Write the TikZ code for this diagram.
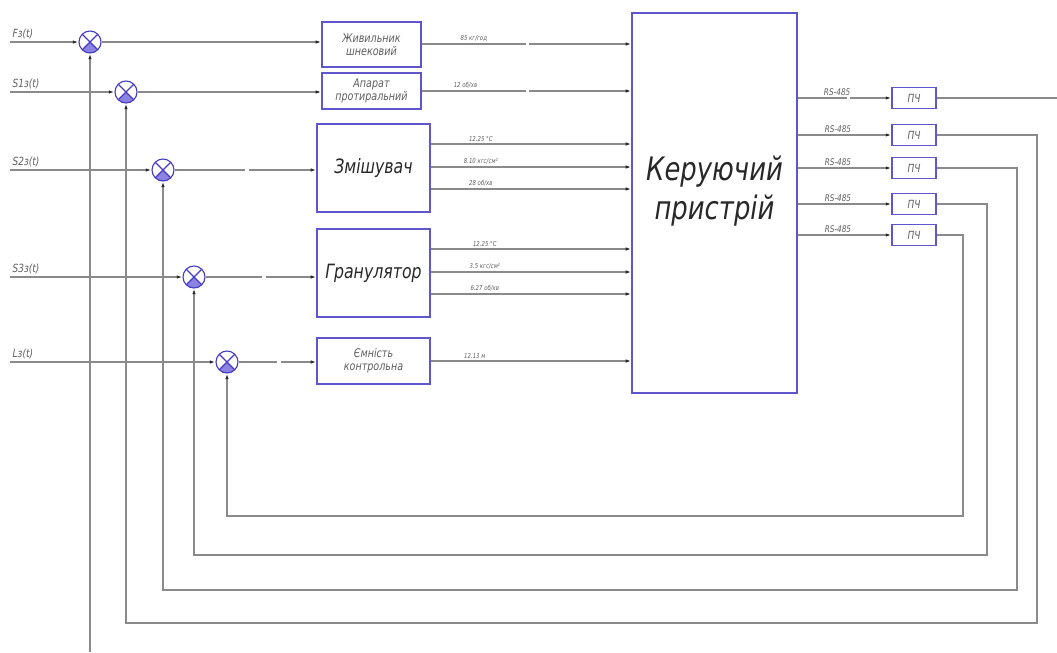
\documentclass[tikz,border=0pt]{standalone}
\usepackage{fontspec}
\newfontfamily\gostfont[FakeStretch=0.8]{DejaVu Sans}
\usetikzlibrary{arrows.meta, positioning, calc}
\definecolor{mygray}{RGB}{138,138,138}
\definecolor{mydark}{RGB}{40,40,40}
\definecolor{myblue}{RGB}{95,85,205}
\definecolor{sumblue}{RGB}{70,60,195}
\definecolor{sumfill}{RGB}{140,130,225}
\definecolor{txtgray}{RGB}{95,95,95}
\tikzset{
  unit/.style={rectangle, draw=myblue, fill=white, line width=0.9pt,
    align=center, inner sep=1pt, text=txtgray,
    font=\gostfont\itshape\fontsize{8.5}{9.5}\selectfont},
  bigunit/.style={unit, text=mydark,
    font=\gostfont\itshape\fontsize{14}{16}\selectfont},
  ctrlbox/.style={rectangle, draw=myblue, line width=0.9pt,
    minimum width=4.125cm, minimum height=9.5cm},
  ctrltext/.style={align=center, text=mydark,
    font=\gostfont\itshape\fontsize{23}{28}\selectfont},
  pchbox/.style={rectangle, draw=myblue, line width=0.9pt,
    minimum width=1.1cm, minimum height=0.525cm, inner sep=0pt,
    text=txtgray, font=\gostfont\itshape\fontsize{8}{9}\selectfont},
  sumj/.style={circle, draw=sumblue, fill=white, minimum size=0.55cm,
    inner sep=0pt, line width=0.8pt,
    path picture={
      \fill[sumfill] (path picture bounding box.center) -- ++(225:0.275cm)
        arc[start angle=225, end angle=315, radius=0.275cm] -- cycle;
      \draw[sumblue, line width=0.8pt]
        (path picture bounding box.north west) -- (path picture bounding box.south east)
        (path picture bounding box.north east) -- (path picture bounding box.south west);
    }},
  arrow/.style={-{Latex[length=4pt, width=2.4pt, color=mydark]}, color=mygray, line width=0.85pt},
  line/.style={color=mygray, line width=0.85pt},
  vallbl/.style={text=txtgray, inner sep=1.5pt,
    font=\gostfont\itshape\fontsize{4.8}{5.5}\selectfont},
  buslbl/.style={text=txtgray, inner sep=1.5pt,
    font=\gostfont\itshape\fontsize{6.5}{7}\selectfont},
  inlbl/.style={text=txtgray, inner sep=1.5pt,
    font=\gostfont\itshape\fontsize{8}{9}\selectfont}
}
\begin{document}
\begin{tikzpicture}[x=0.025cm, y=-0.025cm]
  \useasboundingbox (0,0) rectangle (1057,652);

  % Summing junctions
  \node[sumj] (s1) at (90,42) {};
  \node[sumj] (s2) at (126,92) {};
  \node[sumj] (s3) at (163,170) {};
  \node[sumj] (s4) at (194,277) {};
  \node[sumj] (s5) at (227,362) {};

  % Plant units
  \node[unit, minimum width=2.475cm, minimum height=1.125cm] (feeder) at (371.5,44.5) {Живильник\\шнековий};
  \node[unit, minimum width=2.475cm, minimum height=0.9cm] (wiper) at (371.5,91) {Апарат\\протиральний};
  \node[bigunit, minimum width=2.825cm, minimum height=2.2cm] (mixer) at (373.5,168) {Змішувач};
  \node[bigunit, minimum width=2.825cm, minimum height=2.2cm] (gran) at (373.5,273) {Гранулятор};
  \node[unit, minimum width=2.825cm, minimum height=1.15cm] (tank) at (373.5,361) {Ємність\\контрольна};

  % Controller
  \node[ctrlbox] (ctrl) at (714.5,203) {};
  \node[ctrltext] (ctrltxt) at ([yshift=0.3cm]ctrl.center) {Керуючий\\пристрій};

  % Frequency converters
  \foreach \i/\yy in {1/98, 2/135, 3/168, 4/204, 5/235}
    \node[pchbox] (pch\i) at (914,\yy) {ПЧ};

  % Break points in the long lines
  \coordinate (bf1) at (526,44);  \coordinate (bf2) at (529,44);
  \coordinate (bw1) at (526,91);  \coordinate (bw2) at (529,91);
  \coordinate (bm1) at (245,170); \coordinate (bm2) at (249,170);
  \coordinate (bg1) at (262,277); \coordinate (bg2) at (266,277);
  \coordinate (bt1) at (277,362); \coordinate (bt2) at (281,362);
  \coordinate (bp1) at (847,98);  \coordinate (bp2) at (850,98);

  % Setpoint inputs
  \coordinate (in1) at (10,42);
  \coordinate (in2) at (10,92);
  \coordinate (in3) at (10,170);
  \coordinate (in4) at (10,277);
  \coordinate (in5) at (10,362);
  \draw[arrow] (in1) node[inlbl, above right] {Fз(t)} -- (s1);
  \draw[arrow] (in2) node[inlbl, above right] {S1з(t)} -- (s2);
  \draw[arrow] (in3) node[inlbl, above right] {S2з(t)} -- (s3);
  \draw[arrow] (in4) node[inlbl, above right] {S3з(t)} -- (s4);
  \draw[arrow] (in5) node[inlbl, above right] {Lз(t)} -- (s5);

  % Junctions to units
  \draw[arrow] (s1) -- (s1 -| feeder.west);
  \draw[arrow] (s2) -- (s2 -| wiper.west);
  \draw[arrow] (s3) -- (bm1) (bm2) -- (bm2 -| mixer.west);
  \draw[arrow] (s4) -- (bg1) (bg2) -- (bg2 -| gran.west);
  \draw[arrow] (s5) -- (bt1) (bt2) -- (bt2 -| tank.west);

  % Measured values to controller
  \draw[arrow] (bf1 -| feeder.east) -- (bf1) node[vallbl, pos=0.5, above] {85 кг/год}
    (bf2) -- (bf2 -| ctrl.west);
  \draw[arrow] (wiper.east) -- (bw1) node[vallbl, pos=0.42, above] {12 об/хв}
    (bw2) -- (bw2 -| ctrl.west);
  \foreach \dy/\val in {-24/{12.25 °C}, -1/{8.10 кгс/см²}, 21/{28 об/хв}} {
    \path ($(mixer.east)+(0,\dy)$) coordinate (m);
    \draw[arrow] (m) -- (m -| ctrl.west) node[vallbl, pos=0.25, above] {\val};
  }
  \foreach \dy/\val in {-24/{12.25 °C}, -1/{3.5 кгс/см²}, 21/{6.27 об/хв}} {
    \path ($(gran.east)+(0,\dy)$) coordinate (g);
    \draw[arrow] (g) -- (g -| ctrl.west) node[vallbl, pos=0.27, above] {\val};
  }
  \draw[arrow] (tank.east) -- (tank.east -| ctrl.west) node[vallbl, pos=0.22, above] {12.13 м};

  % RS-485 links
  \draw[arrow] (pch1 -| ctrl.east) -- (bp1) node[buslbl, pos=0.8, above] {RS-485}
    (bp2) -- (pch1.west);
  \foreach \i in {2,...,5}
    \draw[arrow] (pch\i -| ctrl.east) -- (pch\i.west) node[buslbl, pos=0.43, above] {RS-485};

  % Feedback loops
  \coordinate (out1) at (1057,98);
  \coordinate (fb1) at (90,652);
  \coordinate (fb2) at (1037,623);
  \coordinate (fb3) at (1017,590);
  \coordinate (fb4) at (987,555);
  \coordinate (fb5) at (963,516);
  \draw[line] (pch1.east) -- (out1);
  \draw[arrow] (fb1) -- (s1);
  \foreach \i in {2,...,5}
    \draw[arrow] (pch\i.east) -| (fb\i) -| (s\i);
\end{tikzpicture}
\end{document}
